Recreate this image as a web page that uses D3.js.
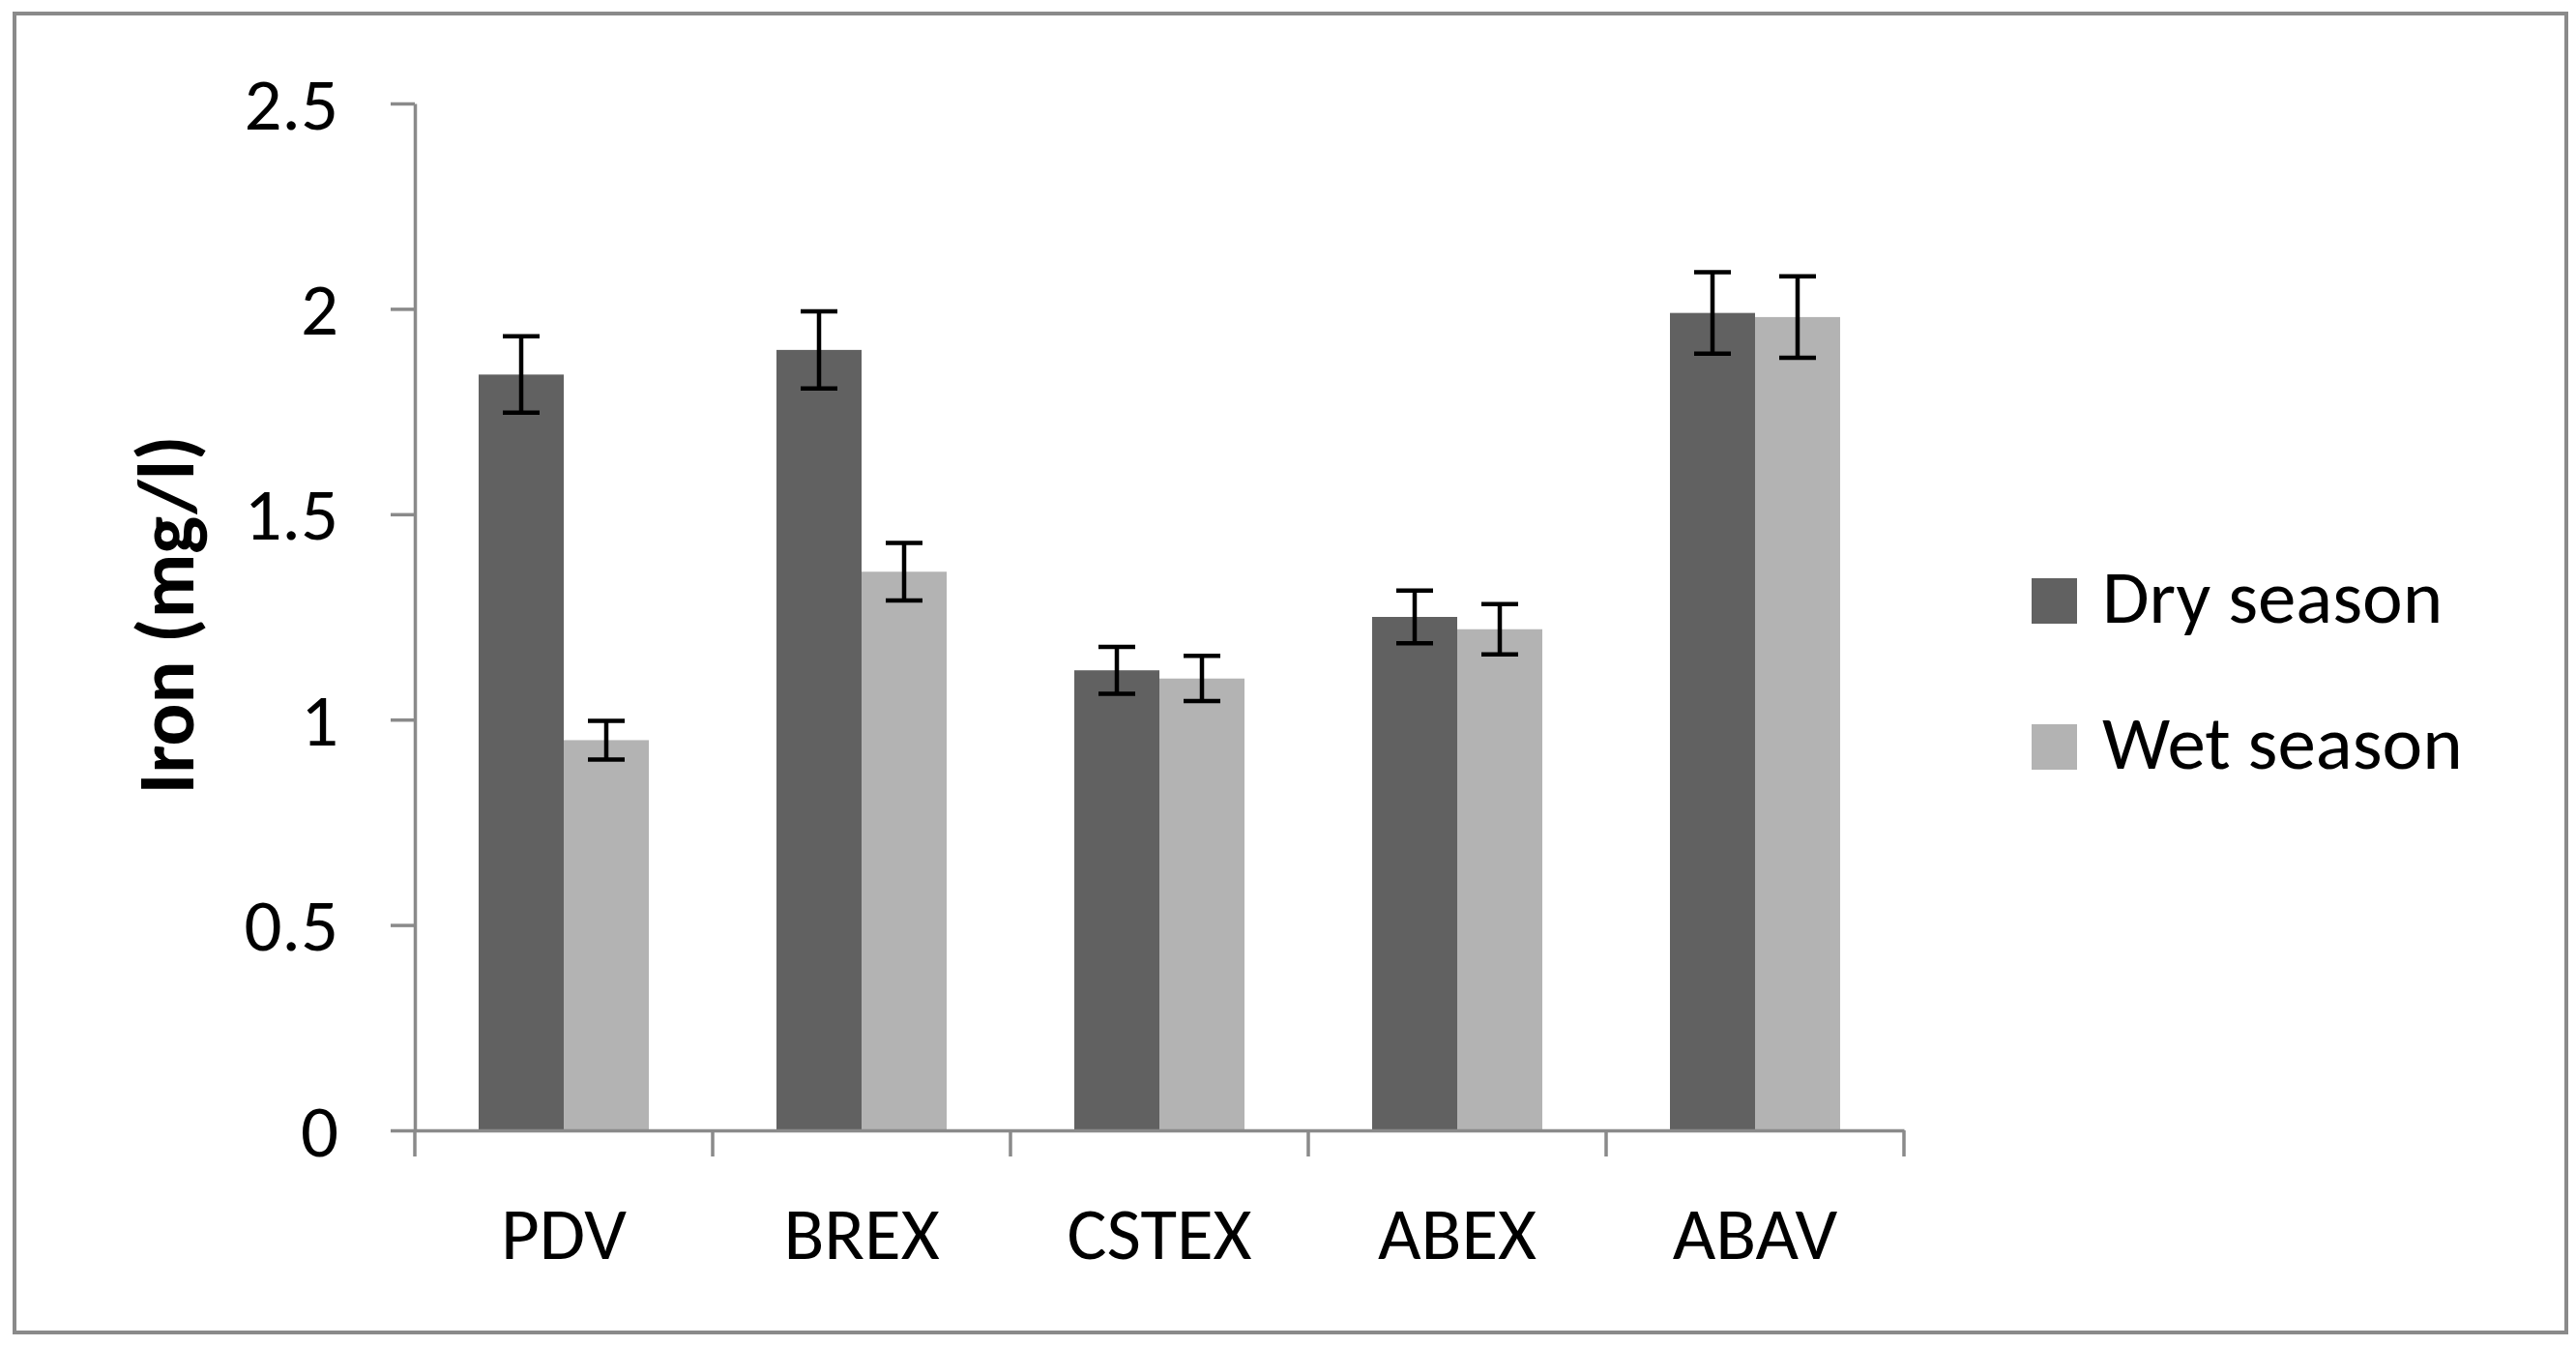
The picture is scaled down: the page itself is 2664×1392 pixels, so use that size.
<!DOCTYPE html>
<html lang="en">
<head>
<meta charset="utf-8">
<script src="https://cdn.jsdelivr.net/npm/d3@7"></script>
<style type="text/css">
body {
	margin: 0;
	background: #fff;
}
text {
	font-family: Carlito, Calibri, Lato, sans-serif;
	fill: #000;
}
</style>
</head>
<body>
<script type="text/javascript">

// data
var sites = ["PDV", "BREX", "CSTEX", "ABEX", "ABAV"];
var seasons = ["Dry season", "Wet season"];
var dryValues = [1.84, 1.90, 1.12, 1.25, 1.99];
var wetValues = [0.95, 1.36, 1.10, 1.22, 1.98];
var dryErrors = [0.093, 0.094, 0.057, 0.064, 0.099];
var wetErrors = [0.047, 0.070, 0.055, 0.061, 0.099];
var yTicks = [0, 0.5, 1, 1.5, 2, 2.5];
var yTickLabels = ["0", "0.5", "1", "1.5", "2", "2.5"];
var yTitle = "Iron (mg/l)";

var width = 2664;
var height = 1392;
var fontSize = 77;
var axisGrey = "#8a8a8a";
var colors = ["#616161", "#b3b3b3"];

var svg = d3.select("body")
			.append("svg")
			.attr("width", width)
			.attr("height", height);

// outer chart border
svg.append("rect")
	.attr("x", 15)
	.attr("y", 14)
	.attr("width", 2639)
	.attr("height", 1364)
	.style("fill", "none")
	.style("stroke", axisGrey)
	.style("stroke-width", 4);

var plotLeft = 429, plotRight = 1969, plotTop = 107, plotBottom = 1169;

var x = d3.scaleBand()
		  .domain(sites)
		  .range([plotLeft, plotRight]);

// Excel style: gap width 150% between groups, bars touching
var barWidth = x.bandwidth() / 3.5;
var x1 = d3.scaleBand()
		   .domain(seasons)
		   .range([0, barWidth * 2]);
var groupOffset = (x.bandwidth() - barWidth * 2) / 2;

var y = d3.scaleLinear()
		  .domain([0, 2.5])
		  .range([plotBottom, plotTop]);

// rows: one per bar
var rows = [];
sites.forEach(function(s, i) {
	rows.push({site: s, season: seasons[0], value: dryValues[i], err: dryErrors[i], c: 0});
	rows.push({site: s, season: seasons[1], value: wetValues[i], err: wetErrors[i], c: 1});
});

svg.append("g")
	.selectAll("rect")
	.data(rows)
	.enter()
	.append("rect")
	.attr("x", function(d) { return x(d.site) + groupOffset + x1(d.season); })
	.attr("y", function(d) { return y(d.value); })
	.attr("width", x1.bandwidth())
	.attr("height", function(d) { return y(0) - y(d.value); })
	.style("fill", function(d) { return colors[d.c]; });

// y axis
var yAxis = d3.axisLeft(y)
			  .tickValues(yTicks)
			  .tickFormat(function(d, i) { return yTickLabels[i]; })
			  .tickSize(25)
			  .tickPadding(54)
			  .tickSizeOuter(0);

var gy = svg.append("g")
			.attr("transform", "translate(" + plotLeft + ",0)")
			.call(yAxis);
gy.selectAll("text").style("font-size", fontSize + "px").attr("dy", "0.34em");

// x axis: ticks sit on the category boundaries
var xAxis = d3.axisBottom(x)
			  .tickSize(0)
			  .tickPadding(0)
			  .tickSizeOuter(0);

var gx = svg.append("g")
			.attr("transform", "translate(0," + plotBottom + ")")
			.call(xAxis);
gx.selectAll(".tick text")
	.attr("y", 133)
	.attr("dy", 0)
	.style("font-size", fontSize + "px");

var bounds = sites.map(function(s) { return x(s); }).concat([plotRight]);
gx.selectAll("line.bound")
	.data(bounds)
	.enter()
	.append("line")
	.attr("class", "bound")
	.attr("x1", function(d) { return d; })
	.attr("x2", function(d) { return d; })
	.attr("y1", 0)
	.attr("y2", 27);

svg.selectAll(".domain, .tick line, line.bound")
	.style("stroke", axisGrey)
	.style("stroke-width", 3.5);
svg.selectAll(".tick text").style("fill", "#000").style("font-family", "Carlito, Calibri, Lato, sans-serif");

// error bars
var capHalf = 19;
var errs = svg.append("g")
			  .style("stroke", "#000")
			  .style("stroke-width", 4.5)
			  .selectAll("g")
			  .data(rows)
			  .enter()
			  .append("g")
			  .attr("transform", function(d) {
				  return "translate(" + (x(d.site) + groupOffset + x1(d.season) + x1.bandwidth() / 2) + ",0)";
			  });
errs.append("line")
	.attr("y1", function(d) { return y(d.value + d.err); })
	.attr("y2", function(d) { return y(d.value - d.err); });
errs.append("line")
	.attr("x1", -capHalf).attr("x2", capHalf)
	.attr("y1", function(d) { return y(d.value + d.err); })
	.attr("y2", function(d) { return y(d.value + d.err); });
errs.append("line")
	.attr("x1", -capHalf).attr("x2", capHalf)
	.attr("y1", function(d) { return y(d.value - d.err); })
	.attr("y2", function(d) { return y(d.value - d.err); });

// y axis title
svg.append("text")
	.attr("transform", "translate(200,636) rotate(-90)")
	.attr("text-anchor", "middle")
	.style("font-size", "82px")
	.style("font-weight", "bold")
	.text(yTitle);

// legend
var legend = svg.append("g")
				.selectAll("g")
				.data(seasons)
				.enter()
				.append("g")
				.attr("transform", function(d, i) { return "translate(2101," + (598 + i * 151) + ")"; });
legend.append("rect")
	  .attr("width", 47)
	  .attr("height", 47)
	  .style("fill", function(d, i) { return colors[i]; });
legend.append("text")
	  .attr("x", 73)
	  .attr("y", 46)
	  .style("font-size", "79px")
	  .text(function(d) { return d; });

</script>
</body>
</html>
